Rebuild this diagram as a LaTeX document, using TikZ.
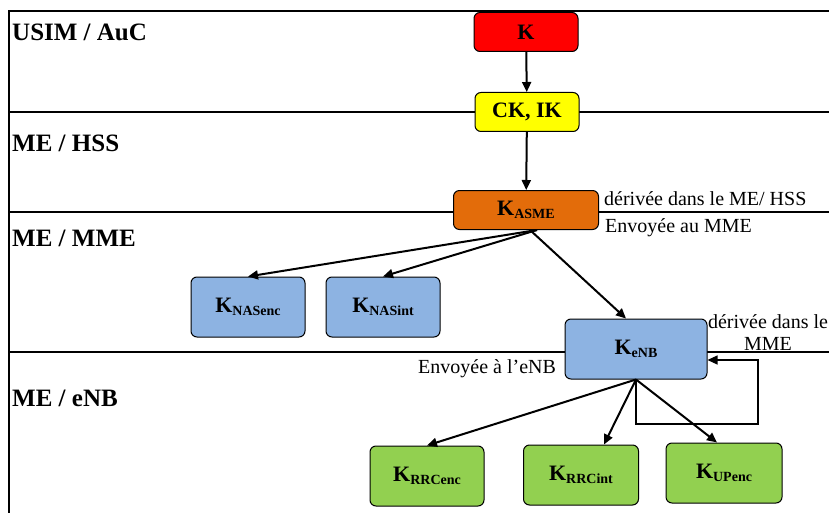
\documentclass[tikz,border=0pt]{standalone}
\usepackage{fontspec}
\setmainfont{Liberation Serif}
\usetikzlibrary{arrows.meta}

\definecolor{kred}{RGB}{255,0,0}
\definecolor{kyellow}{RGB}{255,255,0}
\definecolor{korange}{RGB}{227,108,10}
\definecolor{kblue}{RGB}{141,179,226}
\definecolor{kgreen}{RGB}{146,208,80}

\newcommand{\keyof}[1]{K\raisebox{-0.3ex}{\fontsize{14}{14}\selectfont #1}}

\begin{document}
\begin{tikzpicture}[x=1pt,y=-1pt,>={Triangle[length=10pt,width=9pt]}]
  \tikzstyle{key}=[draw,rounded corners=6pt,line width=1pt,inner sep=0pt,font=\fontsize{22}{22}\selectfont\bfseries]
  \tikzstyle{lane}=[anchor=base west,inner sep=0pt,font=\fontsize{25}{25}\selectfont\bfseries]
  \tikzstyle{note}=[inner sep=0pt,font=\fontsize{20}{22}\selectfont]
  \tikzstyle{flow}=[line width=2pt]
  \useasboundingbox (0,0) rectangle (829,513) ;
  % lanes
  \draw [line width=1.2pt] (9,513) -- (9,11) -- (829,11) ;
  \draw [line width=1.2pt] (9,112) -- (829,112) ;
  \draw [line width=1.2pt] (9,212) -- (829,212) ;
  \draw [line width=1.2pt] (9,352) -- (829,352) ;
  \node [lane] (usim) at (12,41) {USIM / AuC} ;
  \node [lane] (hss) at (12,152) {ME / HSS} ;
  \node [lane] (mme) at (12,246) {ME / MME} ;
  \node [lane] (enb) at (12,406) {ME / eNB} ;
  % keys
  \node [key,fill=kred,minimum width=104pt,minimum height=39pt] (k) at (526,32) {K} ;
  \node [key,fill=kyellow,minimum width=104pt,minimum height=39pt] (ckik) at (527,112) {CK, IK} ;
  \node [key,fill=korange,minimum width=145pt,minimum height=39pt] (kasme) at (526,210) {\keyof{ASME}} ;
  \node [key,fill=kblue,minimum width=114pt,minimum height=60pt] (knasenc) at (248,307) {\keyof{NASenc}} ;
  \node [key,fill=kblue,minimum width=114pt,minimum height=60pt] (knasint) at (383,307) {\keyof{NASint}} ;
  \node [key,fill=kblue,minimum width=142pt,minimum height=60pt] (kenb) at (636,349) {\keyof{eNB}} ;
  \node [key,fill=kgreen,minimum width=114pt,minimum height=60pt] (krrcenc) at (427,476) {\keyof{RRCenc}} ;
  \node [key,fill=kgreen,minimum width=115pt,minimum height=60pt] (krrcint) at (581,475) {\keyof{RRCint}} ;
  \node [key,fill=kgreen,minimum width=116pt,minimum height=60pt] (kupenc) at (724,473) {\keyof{UPenc}} ;
  % notes
  \node [note,anchor=base west] (derhss) at (604,205) {dérivée dans le ME/ HSS} ;
  \node [note,anchor=base west] (envmme) at (605,232) {Envoyée au MME} ;
  \node [note,anchor=base,align=center] (dermme) at (768,350) {dérivée dans le\\MME} ;
  \node [note,anchor=base west] (envenb) at (418,373) {Envoyée à l’eNB} ;
  % derivations
  \path [draw,flow] (k) edge [->] (ckik) ;
  \path [draw,flow] (ckik) edge [->] (kasme) ;
  \path [draw,flow] ([xshift=11]kasme.south) edge [->] (knasenc.north) ;
  \path [draw,flow] ([xshift=11]kasme.south) edge [->] (knasint.north) ;
  \path [draw,flow] ([xshift=4]kasme.south) edge [->] ([xshift=-10]kenb.north) ;
  \path [draw,flow] (kenb.south) edge [->] (krrcenc.north) ;
  \path [draw,flow] (kenb.south) edge [->] ([xshift=23]krrcint.north) ;
  \path [draw,flow] (kenb.south) edge [->] ([xshift=-7]kupenc.north) ;
  \coordinate (loop) at (758,424) ;
  \draw [->,line width=1.2pt] (kenb.south) |- (loop) |- ([yshift=-11]kenb.east) ;
\end{tikzpicture}
\end{document}
